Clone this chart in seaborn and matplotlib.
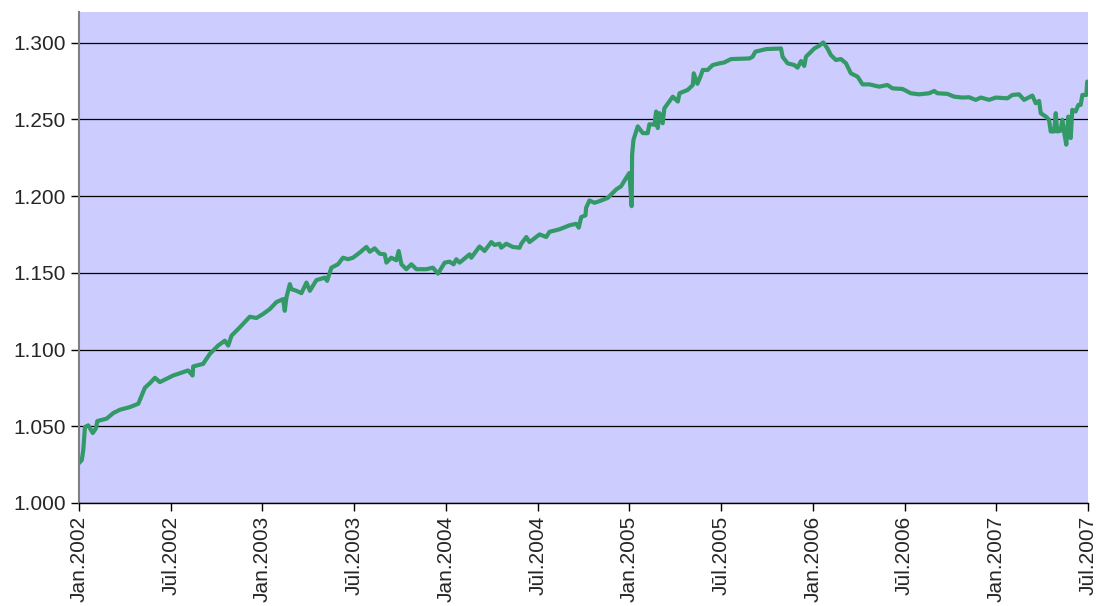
import pandas as pd
import seaborn as sns
import matplotlib.pyplot as plt
from matplotlib.ticker import FormatStrFormatter

# months since Jan 2002 and the rate
menesis = [
    0.00, 0.18, 0.28, 0.39, 0.61, 0.90, 1.11, 1.20, 1.81, 2.24, 2.68, 3.33, 3.88,
    4.10, 4.31, 4.64, 4.97, 5.29, 6.16, 7.14, 7.43, 7.47, 8.12, 8.56, 9.10, 9.54,
    9.76, 9.98, 10.52, 11.17, 11.61, 12.04, 12.48, 12.92, 13.35, 13.46, 13.57,
    13.79, 13.90, 14.23, 14.55, 14.88, 15.10, 15.53, 16.08, 16.23, 16.51, 16.94,
    17.27, 17.60, 17.92, 18.36, 18.80, 19.02, 19.34, 19.67, 20.00, 20.11, 20.43,
    20.76, 20.91, 21.09, 21.41, 21.74, 22.07, 22.72, 23.15, 23.48, 23.92, 24.24,
    24.50, 24.68, 24.90, 25.55, 25.66, 26.20, 26.53, 26.97, 27.18, 27.51, 27.62,
    27.95, 28.38, 28.82, 28.93, 29.26, 29.47, 30.13, 30.56, 30.78, 31.43, 32.08,
    32.52, 32.69, 32.85, 33.13, 33.17, 33.39, 33.72, 34.05, 34.59, 34.81, 35.14,
    35.46, 35.79, 36.00, 36.15, 36.18, 36.27, 36.55, 36.88, 37.20, 37.31, 37.64,
    37.75, 37.86, 37.97, 38.18, 38.29, 38.84, 39.17, 39.28, 39.82, 40.15, 40.21,
    40.45, 40.69, 40.80, 41.12, 41.45, 41.89, 42.21, 42.65, 43.85, 44.06, 44.24,
    44.94, 45.92, 46.02, 46.35, 46.79, 47.00, 47.23, 47.44, 47.55, 48.10, 48.42,
    48.68, 48.96, 49.18, 49.51, 49.84, 50.17, 50.49, 50.93, 51.25, 51.69, 52.34,
    52.88, 53.21, 53.87, 54.41, 54.96, 55.61, 55.94, 56.15, 56.81, 57.24, 57.79,
    58.22, 58.66, 58.99, 59.53, 59.97, 60.73, 61.05, 61.49, 61.82, 62.36, 62.58,
    62.80, 62.91, 63.24, 63.45, 63.56, 63.78, 63.89, 63.99, 64.21, 64.32, 64.43,
    64.58, 64.71, 64.87, 64.97, 65.19, 65.37, 65.52, 65.63, 65.89, 65.95,
]
kurss = [
    1.0260, 1.0279, 1.0344, 1.0495, 1.0506, 1.0456, 1.0487, 1.0534, 1.0550, 1.0586,
    1.0608, 1.0625, 1.0647, 1.0701, 1.0751, 1.0781, 1.0816, 1.0788, 1.0831, 1.0864,
    1.0831, 1.0890, 1.0907, 1.0972, 1.1026, 1.1058, 1.1026, 1.1091, 1.1145, 1.1214,
    1.1206, 1.1232, 1.1264, 1.1310, 1.1329, 1.1253, 1.1340, 1.1427, 1.1394, 1.1383,
    1.1368, 1.1437, 1.1383, 1.1453, 1.1469, 1.1448, 1.1534, 1.1556, 1.1599, 1.1589,
    1.1599, 1.1632, 1.1669, 1.1638, 1.1660, 1.1625, 1.1621, 1.1567, 1.1599, 1.1582,
    1.1643, 1.1556, 1.1524, 1.1556, 1.1524, 1.1524, 1.1534, 1.1495, 1.1567, 1.1573,
    1.1556, 1.1589, 1.1567, 1.1621, 1.1599, 1.1672, 1.1643, 1.1701, 1.1682, 1.1690,
    1.1664, 1.1690, 1.1669, 1.1664, 1.1690, 1.1734, 1.1701, 1.1751, 1.1734, 1.1768,
    1.1784, 1.1810, 1.1820, 1.1795, 1.1864, 1.1875, 1.1924, 1.1972, 1.1957, 1.1968,
    1.1989, 1.2011, 1.2044, 1.2065, 1.2119, 1.2151, 1.1935, 1.2271, 1.2368, 1.2455,
    1.2411, 1.2411, 1.2469, 1.2466, 1.2552, 1.2444, 1.2541, 1.2476, 1.2573, 1.2649,
    1.2617, 1.2671, 1.2693, 1.2725, 1.2801, 1.2733, 1.2790, 1.2823, 1.2823, 1.2855,
    1.2866, 1.2872, 1.2894, 1.2898, 1.2909, 1.2942, 1.2959, 1.2963, 1.2909, 1.2866,
    1.2855, 1.2838, 1.2881, 1.2849, 1.2909, 1.2963, 1.2981, 1.3002, 1.2963, 1.2920,
    1.2888, 1.2894, 1.2866, 1.2801, 1.2779, 1.2729, 1.2729, 1.2714, 1.2725, 1.2703,
    1.2699, 1.2671, 1.2664, 1.2671, 1.2686, 1.2671, 1.2667, 1.2649, 1.2643, 1.2645,
    1.2628, 1.2643, 1.2628, 1.2643, 1.2638, 1.2660, 1.2664, 1.2628, 1.2656, 1.2606,
    1.2621, 1.2541, 1.2519, 1.2498, 1.2422, 1.2422, 1.2541, 1.2422, 1.2427, 1.2498,
    1.2422, 1.2336, 1.2519, 1.2379, 1.2563, 1.2552, 1.2595, 1.2595, 1.2660, 1.2660,
    1.2747,
]

tick_men = [0, 6, 12, 18, 24, 30, 36, 42, 48, 54, 60, 66]
tick_labels = ["Jan.2002", "Jūl.2002", "Jan.2003", "Jūl.2003", "Jan.2004", "Jūl.2004",
               "Jan.2005", "Jūl.2005", "Jan.2006", "Jūl.2006", "Jan.2007", "Jūl.2007"]
y_ticks = [1.00, 1.05, 1.10, 1.15, 1.20, 1.25, 1.30]

df = pd.DataFrame({"menesis": menesis, "kurss": kurss})

sns.set_style("ticks")
plt.rcParams["font.family"] = ["Liberation Sans", "DejaVu Sans"]

fig = plt.figure(figsize=(11, 6.06), dpi=100)
ax = fig.add_axes([0.0718, 0.170, 0.9173, 0.810])
ax.set_facecolor("#CCCCFF")

sns.lineplot(data=df, x="menesis", y="kurss", ax=ax, color="#339966",
             linewidth=3, estimator=None, sort=False)

ax.set_xlim(0, 66)
ax.set_ylim(1.0, 1.32)
ax.set_yticks(y_ticks)
ax.yaxis.set_major_formatter(FormatStrFormatter("%.3f"))
ax.set_xticks(tick_men)
ax.set_xticklabels(tick_labels, rotation=90)
ax.grid(axis="y", color="black", linewidth=0.9)
ax.set_axisbelow(True)
ax.tick_params(axis="both", labelsize=15, length=6, width=1, color="black", direction="out")
ax.set_xlabel("")
ax.set_ylabel("")

for s in ["top", "right"]:
    ax.spines[s].set_visible(False)
ax.spines["left"].set_color("#808080")
ax.spines["left"].set_linewidth(1.5)
ax.spines["bottom"].set_color("black")
ax.spines["bottom"].set_linewidth(1)

plt.savefig("out.png", dpi=100)
